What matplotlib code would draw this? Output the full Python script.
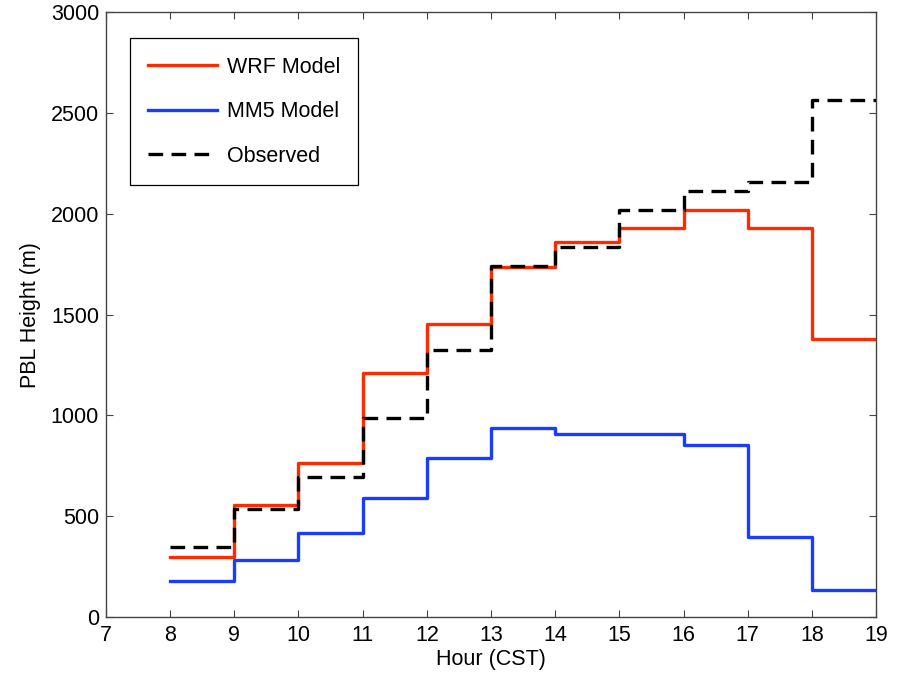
import numpy as np
import matplotlib
matplotlib.use("Agg")
import matplotlib.pyplot as plt

plt.rcParams['font.family'] = ['Liberation Sans', 'DejaVu Sans']

# Hourly PBL heights (m), each value holds from that hour to the next
hours = [8, 9, 10, 11, 12, 13, 14, 15, 16, 17, 18, 19]
wrf = [300, 555, 765, 1210, 1455, 1735, 1860, 1930, 2020, 1930, 1378, 1378]
mm5 = [180, 285, 415, 590, 790, 940, 910, 910, 855, 395, 135, 135]
obs = [345, 535, 695, 985, 1325, 1740, 1835, 2020, 2115, 2160, 2563, 2563]

wrfColor = "#FF2A00"
mm5Color = "#1A3CFF"

fig = plt.figure(figsize=(9.08, 6.81), dpi=100)
ax = fig.add_axes([0.1167, 0.094, 0.8481, 0.888])

ax.plot(hours, wrf, drawstyle='steps-post', color=wrfColor, lw=2.4, label='WRF Model')
ax.plot(hours, mm5, drawstyle='steps-post', color=mm5Color, lw=2.4, label='MM5 Model')
ax.plot(hours, obs, drawstyle='steps-post', color='black', lw=2.4,
        dashes=(4.4, 2.5), label='Observed')

ax.set_xlim(7, 19)
ax.set_ylim(0, 3000)
ax.set_xticks(range(7, 20))
ax.set_yticks(range(0, 3001, 500))
ax.tick_params(direction='in', top=True, right=True, length=5, labelsize=15.5,
               color='#444444')
ax.tick_params(axis='x', pad=6)
ax.tick_params(axis='y', pad=5)
for s in ax.spines.values():
    s.set_color('#444444')
    s.set_linewidth(1.0)

ax.set_xlabel('Hour (CST)', fontsize=15.5, labelpad=2)
ax.set_ylabel('PBL Height (m)', fontsize=15.5, labelpad=7)

leg = ax.legend(loc='upper left', bbox_to_anchor=(0.031, 0.957), borderaxespad=0,
                fontsize=15.5, handlelength=3.2, labelspacing=1.1, borderpad=0.85,
                fancybox=False, framealpha=1, edgecolor='black', handletextpad=0.45)
leg.get_frame().set_linewidth(0.9)

fig.savefig('out.png', dpi=100)
